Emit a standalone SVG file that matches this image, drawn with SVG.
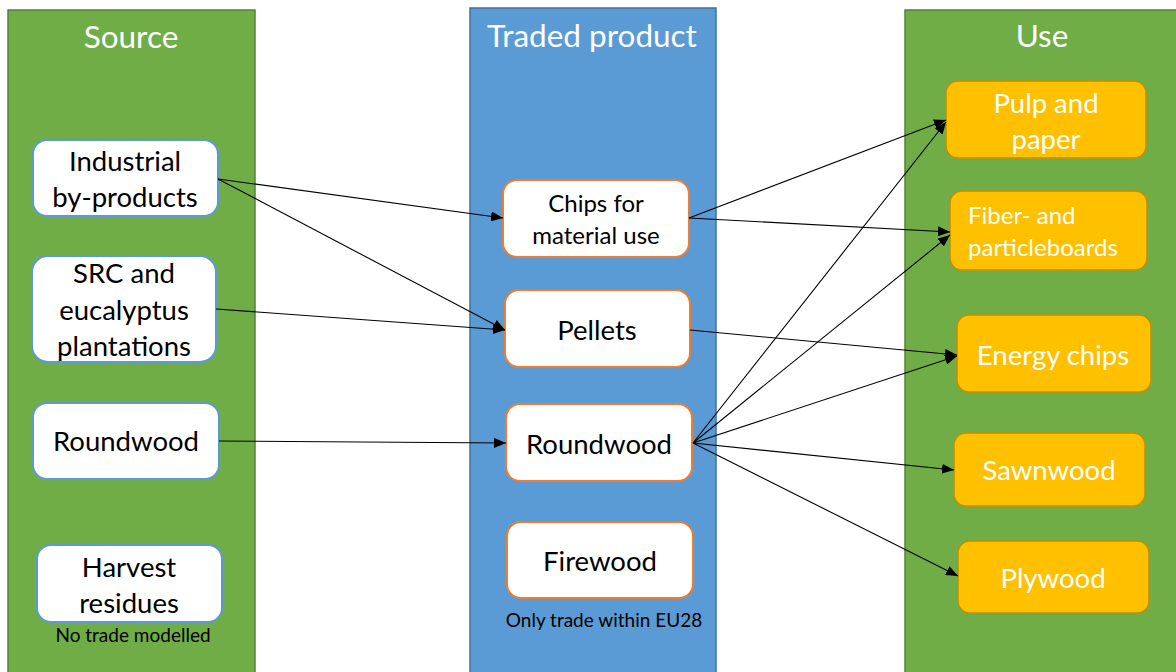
<svg xmlns="http://www.w3.org/2000/svg" width="1176" height="672" viewBox="0 0 1176 672">
<style>
  .panelG { fill: #70ad47; stroke: #548235; stroke-width: 1.5; }
  .panelB { fill: #5b9bd5; stroke: #41719c; stroke-width: 1.5; }
  .src { fill: #ffffff; stroke: #5b9bd5; stroke-width: 2; }
  .trd { fill: #ffffff; stroke: #ed7d31; stroke-width: 2; }
  .use { fill: #ffc000; stroke: #bf9000; stroke-width: 1.5; }
  .hdr { font-family: Lato, "Liberation Sans", sans-serif; font-size: 31.5px; fill: #ffffff; text-anchor: middle; }
  .t { font-family: Lato, "Liberation Sans", sans-serif; font-size: 27.5px; fill: #000000; text-anchor: middle; }
  .ts { font-family: Lato, "Liberation Sans", sans-serif; font-size: 24px; fill: #000000; text-anchor: middle; }
  .tw { font-family: Lato, "Liberation Sans", sans-serif; font-size: 27.5px; fill: #ffffff; text-anchor: middle; }
  .tws { font-family: Lato, "Liberation Sans", sans-serif; font-size: 24px; fill: #ffffff; }
  .note { font-family: Lato, "Liberation Sans", sans-serif; font-size: 19px; fill: #000000; text-anchor: middle; }
  .conn line { stroke: #000000; stroke-width: 1.1; marker-end: url(#arr); }
</style>
<defs>
  <marker id="arr" viewBox="0 0 12 10" refX="12" refY="5" markerWidth="12" markerHeight="10" markerUnits="userSpaceOnUse" orient="auto">
    <path d="M0,0 L12,5 L0,10 Z" fill="#000000"/>
  </marker>
</defs>
<rect width="1176" height="672" fill="#ffffff"/>

<g id="panel-source">
  <rect class="panelG" x="8" y="10" width="247" height="670"/>
  <text class="hdr" x="131" y="48">Source</text>
</g>
<g id="panel-traded">
  <rect class="panelB" x="470" y="8" width="246" height="672"/>
  <text class="hdr" x="592" y="47">Traded product</text>
</g>
<g id="panel-use">
  <rect class="panelG" x="905" y="10" width="280" height="670"/>
  <text class="hdr" x="1042" y="47">Use</text>
</g>

<g id="src-industrial">
  <rect class="src" x="33" y="140" width="185" height="76" rx="14"/>
  <text class="t" x="125" y="171">Industrial</text>
  <text class="t" x="125" y="207">by-products</text>
</g>
<g id="src-src">
  <rect class="src" x="32" y="256" width="184" height="106" rx="16"/>
  <text class="t" x="124" y="283">SRC and</text>
  <text class="t" x="124" y="320">eucalyptus</text>
  <text class="t" x="124" y="356">plantations</text>
</g>
<g id="src-roundwood">
  <rect class="src" x="33" y="403" width="186" height="76" rx="14"/>
  <text class="t" x="126" y="451">Roundwood</text>
</g>
<g id="src-harvest">
  <rect class="src" x="37" y="545" width="185" height="77" rx="14"/>
  <text class="t" x="129" y="577">Harvest</text>
  <text class="t" x="129" y="613">residues</text>
  <text class="note" x="133" y="642">No trade modelled</text>
</g>

<g id="trd-chips">
  <rect class="trd" x="503" y="180" width="186" height="77" rx="14"/>
  <text class="ts" x="596" y="212">Chips for</text>
  <text class="ts" x="596" y="244">material use</text>
</g>
<g id="trd-pellets">
  <rect class="trd" x="505" y="290" width="185" height="77" rx="14"/>
  <text class="t" x="597" y="340">Pellets</text>
</g>
<g id="trd-roundwood">
  <rect class="trd" x="506" y="404" width="186" height="77" rx="14"/>
  <text class="t" x="599" y="454">Roundwood</text>
</g>
<g id="trd-firewood">
  <rect class="trd" x="507" y="522" width="186" height="76" rx="14"/>
  <text class="t" x="600" y="571">Firewood</text>
  <text class="note" x="604" y="627">Only trade within EU28</text>
</g>

<g id="use-pulp">
  <rect class="use" x="946" y="81" width="200" height="77" rx="12"/>
  <text class="tw" x="1046" y="113">Pulp and</text>
  <text class="tw" x="1046" y="149">paper</text>
</g>
<g id="use-fiber">
  <rect class="use" x="950" y="191" width="197" height="79" rx="12"/>
  <text class="tws" x="968" y="224">Fiber- and</text>
  <text class="tws" x="968" y="256">particleboards</text>
</g>
<g id="use-energy">
  <rect class="use" x="957" y="315" width="194" height="77" rx="12"/>
  <text class="tw" x="1053" y="365">Energy chips</text>
</g>
<g id="use-sawnwood">
  <rect class="use" x="954" y="433" width="191" height="73" rx="12"/>
  <text class="tw" x="1049" y="480">Sawnwood</text>
</g>
<g id="use-plywood">
  <rect class="use" x="958" y="541" width="191" height="72" rx="12"/>
  <text class="tw" x="1053" y="588">Plywood</text>
</g>

<g id="connectors" class="conn">
  <line x1="218" y1="179" x2="503" y2="218"/>
  <line x1="218" y1="179" x2="505" y2="330"/>
  <line x1="216" y1="309" x2="505" y2="330"/>
  <line x1="219" y1="441" x2="506" y2="443"/>
  <line x1="689" y1="218" x2="946" y2="120"/>
  <line x1="689" y1="218" x2="950" y2="232"/>
  <line x1="690" y1="330" x2="957" y2="355"/>
  <line x1="693" y1="443" x2="946" y2="122"/>
  <line x1="693" y1="443" x2="950" y2="235"/>
  <line x1="693" y1="443" x2="957" y2="356"/>
  <line x1="693" y1="443" x2="954" y2="470"/>
  <line x1="693" y1="443" x2="958" y2="576"/>
</g>
</svg>
